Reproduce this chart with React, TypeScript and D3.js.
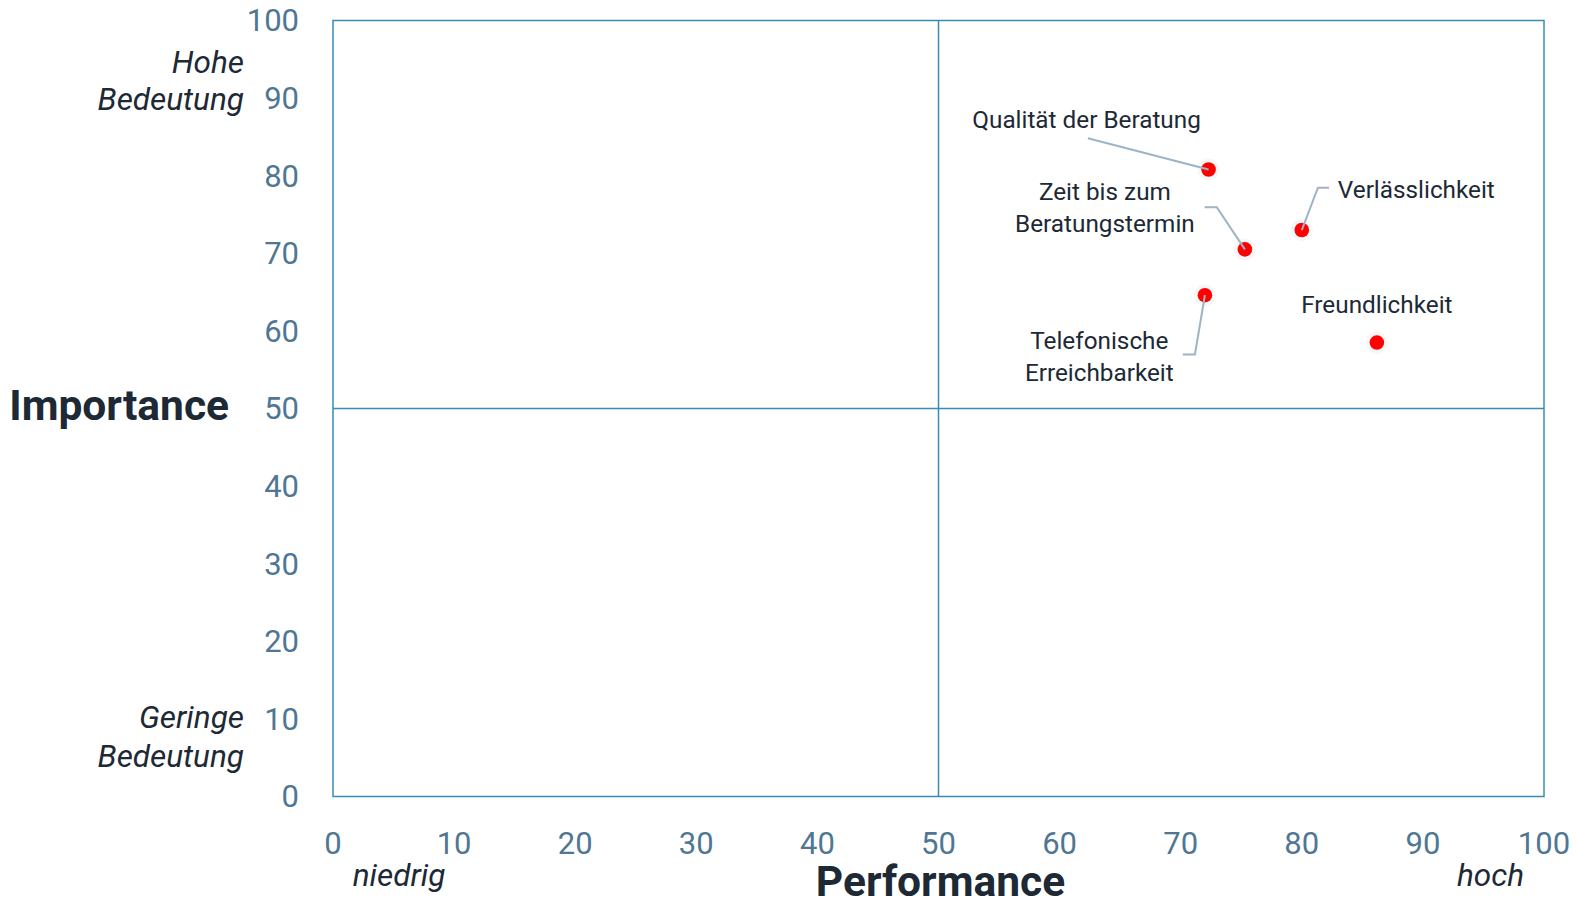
import React from "react";
import * as d3 from "d3";

// ---- data ----
const items: string[][] = [
  ["Qualität der Beratung"],
  ["Zeit bis zum", "Beratungstermin"],
  ["Verlässlichkeit"],
  ["Freundlichkeit"],
  ["Telefonische", "Erreichbarkeit"],
];
const performance: number[] = [72.3, 75.3, 80.0, 86.2, 72.0];
const importance: number[] = [80.8, 70.5, 73.0, 58.5, 64.6];
const xTicks: number[] = [0, 10, 20, 30, 40, 50, 60, 70, 80, 90, 100];
const yTicks: number[] = [0, 10, 20, 30, 40, 50, 60, 70, 80, 90, 100];

// ---- layout (label placement relative to the dot, px) ----
type Lay = { dx: number; dy: number[]; anchor: string; conn: number[][] };
const labelLayout: Lay[] = [
  { dx: -122, dy: [-41], anchor: "middle", conn: [[-120.7, -31.2]] },
  { dx: -140, dy: [-49, -17], anchor: "middle", conn: [[-40.2, -42.2], [-28.1, -42.2]] },
  { dx: 36, dy: [-32], anchor: "start", conn: [[27.2, -42.3], [16.1, -42.3]] },
  { dx: 0, dy: [-30], anchor: "middle", conn: [] },
  { dx: -105.6, dy: [54, 86], anchor: "middle", conn: [[-22.1, 59.3], [-10, 59.3]] },
];

const W = 1577;
const H = 899;
const L = 333, R = 1544, T = 20.5, B = 796.5;
const axisBlue = "#3b8bb4";
const tickColor = "#4f7794";
const dark = "#1d2935";
const font = "Roboto, 'Noto Sans', sans-serif";

export default function App() {
  const x = d3.scaleLinear().domain([0, 100]).range([L, R]);
  const y = d3.scaleLinear().domain([0, 100]).range([B, T]);

  return (
    <div style={{ position: "fixed", left: 0, top: 0, width: W, height: H, background: "#fff" }}>
      <svg width={W} height={H} style={{ display: "block", fontFamily: font }}>
        {/* plot frame */}
        <rect x={x(0)} y={y(100)} width={x(100) - x(0)} height={y(0) - y(100)} fill="none" stroke={axisBlue} strokeWidth={1.5} />
        <line x1={x(50)} x2={x(50)} y1={y(0)} y2={y(100)} stroke={axisBlue} strokeWidth={1.5} />
        <line x1={x(0)} x2={x(100)} y1={y(50)} y2={y(50)} stroke={axisBlue} strokeWidth={1.5} />

        {/* y ticks */}
        {yTicks.map((t) => (
          <text key={"y" + t} x={299} y={y(t) + 10.8} textAnchor="end" fontSize={31} fill={tickColor}>
            {t}
          </text>
        ))}
        {/* x ticks */}
        {xTicks.map((t) => (
          <text key={"x" + t} x={x(t)} y={854} textAnchor="middle" fontSize={31} fill={tickColor}>
            {t}
          </text>
        ))}

        {/* axis titles */}
        <text x={229} y={420} textAnchor="end" fontSize={42.5} fontWeight={700} fill={dark}>Importance</text>
        <text x={x(50) + 2} y={896} textAnchor="middle" fontSize={42.5} fontWeight={700} fill={dark}>Performance</text>

        {/* italic annotations */}
        <text x={244} y={72.5} textAnchor="end" fontSize={31.5} fontStyle="italic" fill={dark}>Hohe</text>
        <text x={244} y={110} textAnchor="end" fontSize={31.5} fontStyle="italic" fill={dark}>Bedeutung</text>
        <text x={244} y={728} textAnchor="end" fontSize={31.5} fontStyle="italic" fill={dark}>Geringe</text>
        <text x={244} y={767} textAnchor="end" fontSize={31.5} fontStyle="italic" fill={dark}>Bedeutung</text>
        <text x={399} y={886} textAnchor="middle" fontSize={31.5} fontStyle="italic" fill={dark}>niedrig</text>
        <text x={1490.5} y={886} textAnchor="middle" fontSize={31.5} fontStyle="italic" fill={dark}>hoch</text>

        {/* points, connectors and labels */}
        {items.map((lines, i) => {
          const cx = x(performance[i]);
          const cy = y(importance[i]);
          const lay = labelLayout[i];
          const pts: [number, number][] = lay.conn.map((p) => [cx + p[0], cy + p[1]] as [number, number]);
          pts.push([cx, cy]);
          const path = lay.conn.length ? d3.line()(pts) : null;
          return (
            <g key={i}>
              <circle cx={cx} cy={cy} r={11} fill="#f1f1f1" opacity={0.6} />
              <circle cx={cx} cy={cy} r={7.3} fill="#ff0000" />
              {path && <path d={path} fill="none" stroke="#9db3c6" strokeWidth={2} />}
              {lines.map((ln, j) => (
                <text key={j} x={cx + lay.dx} y={cy + lay.dy[j]} textAnchor={lay.anchor} fontSize={24.3} fill={dark}>
                  {ln}
                </text>
              ))}
            </g>
          );
        })}
      </svg>
    </div>
  );
}
